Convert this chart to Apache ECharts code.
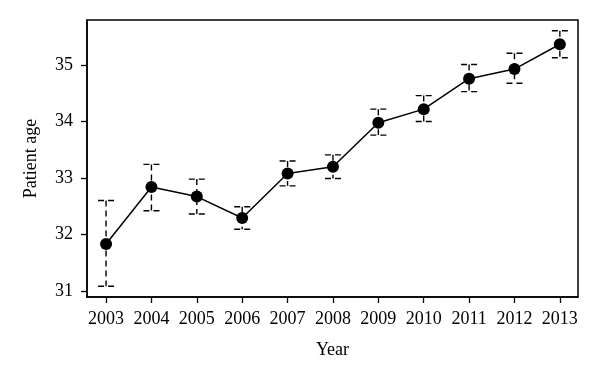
<!DOCTYPE html>
<html>
<head>
<meta charset="utf-8">
<script src="https://cdn.jsdelivr.net/npm/echarts@6/dist/echarts.min.js"></script>
<style>
    html, body { margin: 0; padding: 0; background: #fff; }
    #chart { width: 600px; height: 383px; }
</style>
</head>
<body>
<div id="chart"></div>
<script>
// values
let years = [2003, 2004, 2005, 2006, 2007, 2008, 2009, 2010, 2011, 2012, 2013];
let ageMean = [31.83, 32.84, 32.67, 32.29, 33.08, 33.20, 33.98, 34.22, 34.76, 34.93, 35.37];
let ageLow = [31.08, 32.42, 32.36, 32.09, 32.86, 32.99, 33.76, 34.00, 34.53, 34.68, 35.13];
let ageHigh = [32.60, 33.24, 32.98, 32.49, 33.30, 33.41, 34.22, 34.46, 35.01, 35.21, 35.61];
let yTicks = [31, 32, 33, 34, 35];

let fontName = '"Liberation Serif", "DejaVu Serif", serif';

let meanData = years.map(function (y, i) { return [y, ageMean[i]]; });
let barData = years.map(function (y, i) { return [y, ageLow[i], ageHigh[i]]; });

function renderErrorBar(params, api) {
    let x = api.value(0);
    let lo = api.coord([x, api.value(1)]);
    let hi = api.coord([x, api.value(2)]);
    let half = 8;
    let style = {
        stroke: '#000',
        lineWidth: 1.4,
        lineDash: [6, 4]
    };
    return {
        type: 'group',
        children: [
            { type: 'line', shape: { x1: hi[0], y1: hi[1], x2: lo[0], y2: lo[1] }, style: style },
            { type: 'line', shape: { x1: hi[0] - half, y1: hi[1], x2: hi[0] + half, y2: hi[1] }, style: style },
            { type: 'line', shape: { x1: lo[0] - half, y1: lo[1], x2: lo[0] + half, y2: lo[1] }, style: style }
        ]
    };
}

let option = {
    backgroundColor: '#fff',
    animation: false,
    textStyle: { fontFamily: fontName },
    grid: {
        left: 87,
        right: 22,
        top: 20,
        bottom: 86,
        show: true,
        borderColor: '#000',
        borderWidth: 1.5
    },
    xAxis: {
        type: 'value',
        min: 2002.58,
        max: 2013.4,
        name: 'Year',
        nameLocation: 'middle',
        nameGap: 44,
        nameTextStyle: { color: '#000', fontSize: 18, fontFamily: fontName },
        axisLine: { show: true, lineStyle: { color: '#000', width: 1.5 } },
        axisTick: { show: true, length: 6, customValues: years, lineStyle: { color: '#000', width: 1.3 } },
        axisLabel: {
            customValues: years,
            margin: 13,
            color: '#000',
            fontSize: 18,
            fontFamily: fontName,
            formatter: function (v) { return String(v); }
        },
        splitLine: { show: false }
    },
    yAxis: {
        type: 'value',
        min: 30.89,
        max: 35.8,
        name: 'Patient age',
        nameLocation: 'middle',
        nameGap: 47,
        nameTextStyle: { color: '#000', fontSize: 18, fontFamily: fontName },
        axisLine: { show: true, lineStyle: { color: '#000', width: 1.5 } },
        axisTick: { show: true, length: 6, customValues: yTicks, lineStyle: { color: '#000', width: 1.3 } },
        axisLabel: {
            customValues: yTicks,
            margin: 14,
            color: '#000',
            fontSize: 18,
            fontFamily: fontName,
            formatter: function (v) { return String(v); }
        },
        splitLine: { show: false }
    },
    series: [
        {
            name: 'range',
            type: 'custom',
            renderItem: renderErrorBar,
            data: barData,
            z: 1
        },
        {
            name: 'mean',
            type: 'line',
            data: meanData,
            symbol: 'circle',
            symbolSize: 12,
            lineStyle: { color: '#000', width: 1.5 },
            itemStyle: { color: '#000' },
            z: 2
        }
    ]
};

let chart = echarts.init(document.getElementById('chart'));
chart.setOption(option);
</script>
</body>
</html>
